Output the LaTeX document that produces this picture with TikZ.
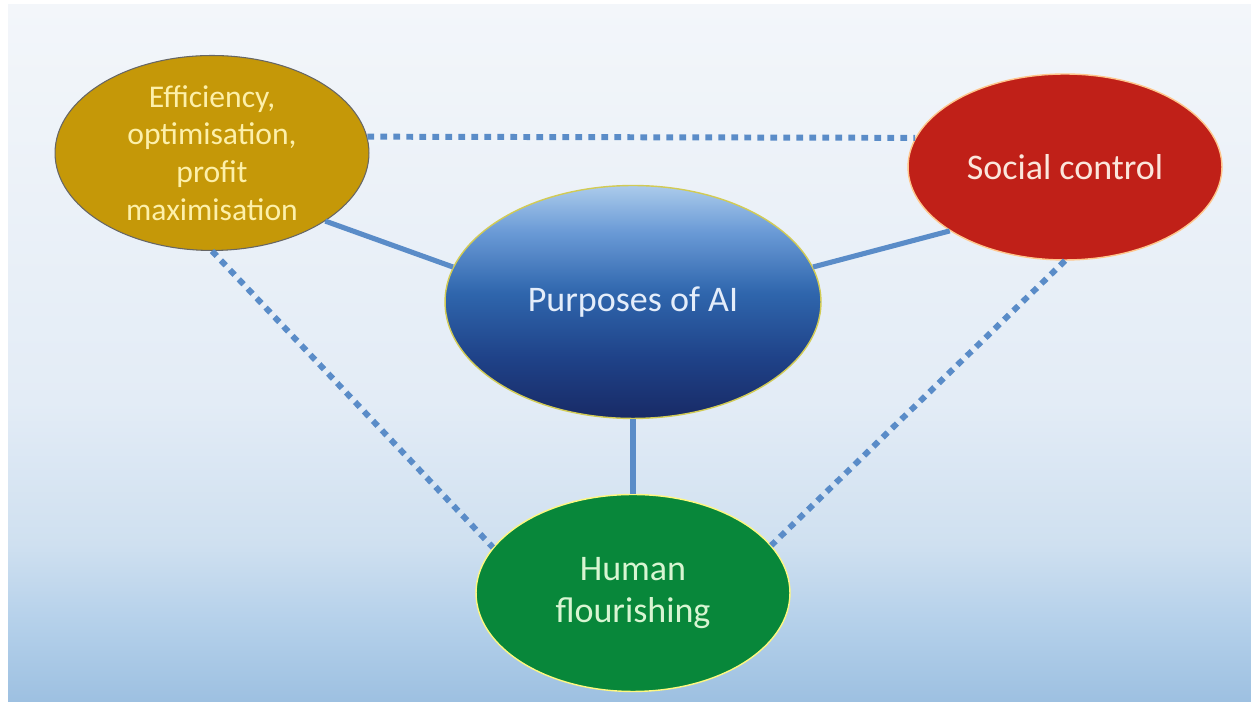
\documentclass[tikz,border=0pt]{standalone}
\usepackage{fontspec}
\setmainfont{Carlito}
\usetikzlibrary{shapes.geometric}

\definecolor{bgtop}{HTML}{F3F6FA}
\definecolor{bgmid}{HTML}{E3ECF6}
\definecolor{bglow}{HTML}{CFE0F0}
\definecolor{bgdeep}{HTML}{B4D0EA}
\definecolor{bgbot}{HTML}{9DC0E1}
\definecolor{goldfill}{HTML}{C59808}
\definecolor{goldtext}{HTML}{FDF0AA}
\definecolor{redfill}{HTML}{C02018}
\definecolor{redtext}{HTML}{FBE6DC}
\definecolor{greenfill}{HTML}{08873A}
\definecolor{greentext}{HTML}{D8F5D2}
\definecolor{aitop}{HTML}{ABCBEB}
\definecolor{aiupper}{HTML}{6A9AD6}
\definecolor{aimid}{HTML}{2F66AD}
\definecolor{ailow}{HTML}{1F4288}
\definecolor{aibot}{HTML}{182A66}
\definecolor{aitext}{HTML}{E4EDFA}
\definecolor{linkblue}{HTML}{5A8CC8}

\pgfdeclareverticalshading{bgshade}{100bp}{color(0bp)=(bgbot); color(25bp)=(bgbot);
  color(30.6bp)=(bgdeep); color(36.3bp)=(bglow); color(46.5bp)=(bgmid);
  color(75bp)=(bgtop); color(100bp)=(bgtop)}
\pgfdeclareverticalshading{aishade}{100bp}{color(0bp)=(aibot); color(25bp)=(aibot);
  color(38bp)=(ailow); color(52bp)=(aimid); color(65bp)=(aiupper);
  color(75bp)=(aitop); color(100bp)=(aitop)}

\begin{document}
\begin{tikzpicture}[x=0.02cm,y=0.02cm,
   purpose/.style={ellipse,inner sep=0pt,minimum width=6.28cm,
      font=\fontsize{20.5}{24}\selectfont,align=center},
   solidlink/.style={linkblue,line width=2.9pt},
   dotlink/.style={linkblue,line width=3.4pt,dash pattern=on 3.9pt off 3.5pt}]
   % background
   \useasboundingbox (0,0) rectangle (1251,702);
   \fill[white] (0,0) rectangle (1251,702);
   \shade[shading=bgshade] (8,0) rectangle (1251,697);
   % the four purposes
   \node[purpose,draw=black!60,line width=0.6pt,fill=goldfill,text=goldtext,
      minimum height=3.9cm,font=\fontsize{18}{21.5}\selectfont] (eff) at (212,549)
      {Efficiency,\\optimisation,\\profit\\maximisation};
   \node[purpose,draw=orange!45,line width=0.8pt,fill=redfill,text=redtext,
      minimum height=3.72cm] (soc) at (1065,535) {Social control};
   \node[purpose,draw=yellow!60!gray,line width=0.8pt,shading=aishade,text=aitext,
      minimum width=7.52cm,minimum height=4.66cm] (ai) at (633,400) {Purposes of AI};
   \node[purpose,draw=yellow!50!white,line width=0.8pt,fill=greenfill,text=greentext,
      minimum height=3.94cm] (hum) at (633,109) {Human\\flourishing};
   % links
   \draw[solidlink] (eff.-31) -- (ai.169);
   \draw[solidlink] (soc.209) -- (ai.11);
   \draw[solidlink] (ai.south) -- (hum.north);
   \draw[dotlink] (eff.6) -- (soc.169);
   \draw[dotlink] (eff.south) -- (hum.162);
   \draw[dotlink] (soc.south) -- (hum.19);
\end{tikzpicture}
\end{document}
